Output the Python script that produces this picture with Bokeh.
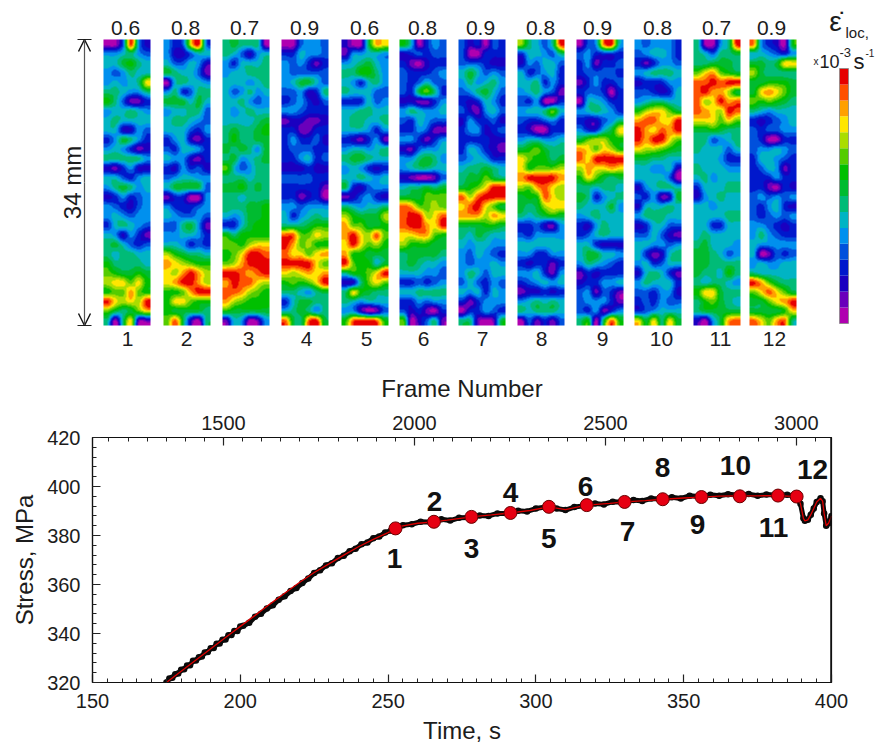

import numpy as np
from bokeh.embed import file_html
from bokeh.resources import INLINE
from bokeh.plotting import figure
from bokeh.layouts import column
from bokeh.models import (Range1d, LinearAxis, FixedTicker, LinearColorMapper, Arrow, OpenHead, Span)
from bokeh.core.properties import value

FONT = "Liberation Sans"
INK = "#1c1c1c"

palette = ["#b000b0", "#6a00bb", "#1a00c0", "#0018cc", "#0050dc", "#0090ee", "#00b4c4", "#00bb77",
           "#00bb30", "#00bf00", "#55cc00", "#aadd00", "#ffe600", "#ffa000", "#ff5000", "#e60000"]

frame_top = ["0.6", "0.8", "0.7", "0.9", "0.6", "0.8", "0.9", "0.8", "0.9", "0.8", "0.7", "0.9"]
frame_ids = [str(i) for i in range(1, 13)]

panel_1 = ["004f52","556754","668976","545766","56567c","776557","974113","566765","676666","662254",
           "358753","565312","777775","213522","664356","578756","235345","543245","565455","367654",
           "652531","786434","767766","977776","a98898","bccac9","9aada9","fcbcbf","a878ac","707c11"]
panel_2 = ["534cf4","522466","644652","876641","067665","573477","888686","566774","677654","666435",
           "356213","436653","655213","325342","456655","688884","133005","533345","654454","447851",
           "556653","665343","b98776","dcba99","cbdfdb","cdffdb","99adff","9cca99","988887","ae8207"]
panel_3 = ["787770","764256","536667","566777","666567","645756","667545","656766","666678","787789",
           "797788","878758","785678","a64577","777677","889787","776777","777889","656889","336899",
           "979999","aa9bcc","9acffe","abdfff","ffedef","dfeecb","eedba9","dba999","988888","165015"]
panel_4 = ["004554","336554","545313","544444","568864","445237","345324","554333","122112","331133",
           "353342","344433","335634","222322","444433","333331","331230","554555","635676","777899",
           "eeaacb","fdab99","eccacd","ffffca","cbcdcd","9a9acf","776578","368877","678757","e87ef8"]
panel_5 = ["2008dc","155665","567865","779975","653675","766644","333645","667766","677667","666535",
           "321351","566567","788766","565323","667656","832455","124532","765667","b9888b","daa889",
           "dfcbea","cfcab9","d99888","fa9968","799acf","227aca","7c9877","765666","552014","9effe9"]
panel_6 = ["960354","234344","310233","433345","434644","438a73","221135","576556","436544","335411",
           "553135","214556","557875","567766","210014","677878","888aaa","edaaba","effbce","effdcf",
           "ccdda9","b99988","788887","787665","666554","334345","667777","335455","423103","a02471"]
panel_7 = ["423043","400333","444322","686454","575675","457864","323653","421564","253342","355234",
           "333322","365321","456533","677876","788a87","89acff","ebefff","cefca8","dddbdc","888998",
           "768766","656655","546543","545565","576466","464354","656365","313555","033543","771018"]
panel_8 = ["b7647f","366547","254664","634563","667353","567541","435003","5667a6","433453","320033",
           "566556","89a877","ca9978","c9aaab","dffffd","badecb","899ecb","878bcc","767898","334215",
           "435555","666666","553355","323313","556315","345656","122323","567676","767776","041314"]
panel_9 = ["045ef6","453333","351334","344443","135334","344303","066533","567653","322457","53368c",
           "8abb99","dcacb9","ecffff","bdccdc","9ca878","776776","873567","766685","567666","325766",
           "346766","663222","688665","576543","132333","233556","451431","455531","435135","7908e9"]
panel_10 = ["545553","456653","313554","567776","233355","443236","567766","9bcca8","deeccf","fdcedf",
            "fdffca","cbba98","887766","665562","666640","256776","435128","266676","577766","236644",
            "446421","665545","631267","563466","267631","576663","443552","343544","345666","c8c7c8"]
panel_11 = ["70057f","764778","778887","acda98","eefeff","efddb8","ebcfde","edcbfe","cccaca","889877",
            "774567","766646","666533","766655","675666","366677","256766","665666","666677","663366",
            "676666","786665","887645","887777","877697","767765","9cc877","79a876","788888","2058de"]
panel_12 = ["e53209","665435","8878cc","b87777","889998","8cdca8","a9a987","765666","323456","434455",
            "430033","455654","366543","346513","333533","331032","454545","435632","434545","554323",
            "575433","655555","601434","565566","766666","fda877","aceca8","88acdf","88889c","ecade7"]
panels = [panel_1, panel_2, panel_3, panel_4, panel_5, panel_6, panel_7, panel_8, panel_9, panel_10, panel_11, panel_12]

time_s = [175, 176, 177, 178, 179, 180, 181, 182, 183, 184, 185, 186, 187, 188, 189, 190, 191, 192, 193, 194, 195, 196, 197, 198, 199, 200,
          201, 203, 205, 207, 209, 211, 213,
          215, 217, 219, 221, 223, 225, 227, 229, 231, 233, 235, 237, 239, 241, 243, 245, 247, 249, 251, 252.5,
          255, 258, 261, 265.5, 268, 271, 274, 278, 281, 284, 287, 291, 294, 297, 300, 304.5, 307, 310, 313, 317,
          320, 323, 326, 330, 333, 336, 339, 343, 346, 349, 352, 356, 359, 362, 365, 369, 372, 375, 378, 382, 385,
          388.2, 389.5, 390.5, 391, 392, 393, 394, 395, 396.3, 397, 397.5, 398.2, 399, 400]
stress_raw = [320, 321.6, 321.9, 323.4, 323.7, 325.2, 325.4, 326.9, 327, 328.9, 329, 330.3, 330.6, 332.2, 332.4, 334, 334.1, 335.8, 335.9, 337.5, 337.6, 339.3, 339.4, 341, 341, 342.9,
              343.2, 344.4, 346.8, 348.1, 350.2, 351.5, 353.8,
              355.2, 357.3, 358.6, 360.6, 362.4, 364.7, 365.8, 367.8, 368.7, 370.8, 371.7, 373.6, 374.6, 376.4, 377.1, 378.9, 379.6, 381.2, 382, 382.8,
              384.2, 384.6, 385.6, 385.4, 386.6, 386.1, 387.2, 387.3, 388.2, 388, 389, 389, 390.1, 389.8, 391, 391.9, 391, 390.4, 391.6, 392.2,
              393.1, 392.7, 393.8, 393.6, 394.5, 394.1, 395.1, 394.8, 395.6, 395.1, 396.2, 395.8, 396.6, 396.2, 396.8, 396.4, 396.9, 396.2, 396.7, 396.4, 396.6,
              395.9, 393, 387, 386, 386.4, 388.5, 391, 393.7, 395.2, 394, 389, 384, 385, 388]

fit_time = [175, 180, 185, 190, 195, 200, 205, 210, 215, 220, 225, 230, 235, 240, 245, 250, 252.5, 255, 260, 265.5, 270, 278.2, 285, 291.4, 298,
            304.4, 310, 317.2, 325, 330, 337, 342.9, 350, 356, 362, 369, 375, 381.9, 388.2, 389.5, 390.5, 391, 392, 393, 394, 395, 396.3, 397, 397.5, 398.2, 399, 400]
stress_fit = [320, 324.6, 329.2, 333.8, 338.4, 342.9, 347.4, 352, 356.4, 360.8, 364.9, 368.4, 372, 375.4, 378.4, 381.2, 382.9, 383.9, 385, 385.6, 386.3, 387.6, 388.4, 389.2, 390.2,
              391.7, 390.6, 392.4, 393.1, 393.7, 394.2, 394.8, 395.3, 395.7, 396.1, 396.2, 396.2, 396.3, 395.9, 393, 387, 386, 386.4, 388.5, 391, 393.7, 395.2, 394, 389, 384, 385, 388]

point_time = [252.5, 265.5, 278.2, 291.4, 304.4, 317.2, 330, 342.9, 356, 369, 381.9, 388.2]
point_stress = [382.9, 385.6, 387.6, 389.2, 391.7, 392.4, 393.7, 394.8, 395.7, 396, 396.3, 395.9]
label_time = [252.2, 265.7, 278.2, 291.4, 304.4, 316.8, 331, 342.8, 354.7, 367.5, 380.4, 393.6]
label_stress = [370.8, 394, 374.5, 397.6, 378.9, 400.1, 381.8, 407.8, 384.6, 408.6, 383.4, 407]

time_ticks = [150, 200, 250, 300, 350, 400]
stress_ticks = [320, 340, 360, 380, 400, 420]
frame_ticks = [1500, 2000, 2500, 3000]

# layout of the upper row, in page pixels
panel_left = [103, 163, 222, 281, 341, 399, 458, 517, 576, 634, 693, 749]
panel_w = 47
panel_top, panel_bottom = 39, 325
top_x = [125, 185, 244, 304, 364, 422, 480, 540, 597, 657, 716, 771]
bottom_x = [127, 186, 248, 306, 366, 423, 482, 541, 602, 661, 720, 774]


def cubic(v, n):
    # Catmull-Rom resampling of one line of cell values onto n output pixels
    m = len(v)
    pos = (np.arange(n) + 0.5) / n * m - 0.5
    i = np.clip(np.floor(pos).astype(int), 0, m - 1)
    t = np.clip(pos - i, 0, 1)
    p0 = v[np.clip(i - 1, 0, m - 1)]
    p1 = v[i]
    p2 = v[np.clip(i + 1, 0, m - 1)]
    p3 = v[np.clip(i + 2, 0, m - 1)]
    return 0.5 * (2 * p1 + (p2 - p0) * t + (2 * p0 - 5 * p1 + 4 * p2 - p3) * t ** 2 + (3 * p1 - p0 - 3 * p2 + p3) * t ** 3)


def field(rows, w, h):
    g = np.array([[int(c, 16) for c in r] for r in rows], dtype=float) + 0.5
    a = np.array([cubic(g[:, j], h) for j in range(g.shape[1])]).T
    b = np.array([cubic(a[i, :], w) for i in range(h)])
    k = np.ones(3) / 3
    b = np.apply_along_axis(lambda v: np.convolve(np.pad(v, 1, mode="edge"), k, "valid"), 1, b)
    b = np.apply_along_axis(lambda v: np.convolve(np.pad(v, 1, mode="edge"), k, "valid"), 0, b)
    return np.clip(b, 0, 15.99)[::-1]


top = figure(width=875, height=363, x_range=Range1d(0, 875), y_range=Range1d(-363, 0),
             x_axis_type=None, y_axis_type=None, toolbar_location=None, output_backend="svg",
             min_border=0, outline_line_color=None, frame_align=False)
top.grid.visible = False

mapper = LinearColorMapper(palette=palette, low=0, high=16)
for left, rows in zip(panel_left, panels):
    top.image(image=[field(rows, panel_w, panel_bottom - panel_top)], x=left, y=-panel_bottom,
              dw=panel_w, dh=panel_bottom - panel_top, color_mapper=mapper)


def label(fig, x, y, t, size, align="center", base="middle", style="normal", angle=0):
    fig.text(x=[x], y=[-y], text=[t], text_font=value(FONT), text_font_size=f"{size}px",
             text_align=align, text_baseline=base, text_color=INK, text_font_style=style, angle=angle)


for x, t in zip(top_x, frame_top):
    label(top, x, 27, t, 21)
for x, t in zip(bottom_x, frame_ids):
    label(top, x, 338, t, 21)

# 34 mm gauge
top.segment(x0=[77, 77], x1=[91, 91], y0=[-panel_top, -panel_bottom], y1=[-panel_top, -panel_bottom],
            line_color="#222222", line_width=1.2)
for y0, y1 in ((182, panel_top), (182, panel_bottom)):
    top.add_layout(Arrow(end=OpenHead(size=12, line_color="#111111", line_width=1.4), x_start=84, x_end=84,
                         y_start=-y0, y_end=-y1, line_color="#555555", line_width=1.2))
label(top, 72, 182, "34 mm", 24, angle=np.pi / 2)

# colour scale
bar_top, bar_bottom = 68, 323
step = (bar_bottom - bar_top) / len(palette)
top.quad(left=839, right=848,
         top=[-(bar_bottom - step * (i + 1)) for i in range(16)],
         bottom=[-(bar_bottom - step * i) for i in range(16)],
         fill_color=palette, line_color=None)
top.rect(x=[843.5], y=[-(bar_top + bar_bottom) / 2], width=9, height=bar_bottom - bar_top,
         fill_color=None, line_color="#888888", line_width=0.8)
label(top, 835, 21, "\u03b5\u0307", 28)
label(top, 845, 32, "loc,", 15, align="left", base="alphabetic")
label(top, 813, 61, "x", 10, align="left", base="alphabetic")
label(top, 819, 61, "10", 18, align="left", base="alphabetic")
label(top, 839, 52, "-3", 13, align="left", base="alphabetic")
label(top, 853, 61, "s", 22, align="left", base="alphabetic")
label(top, 865, 52, "-1", 10, align="left", base="alphabetic")

# stress curve
p = figure(width=875, height=383, x_range=Range1d(150, 400), y_range=Range1d(320, 420),
           toolbar_location=None, output_backend="svg",
           min_border_left=92, min_border_right=44, min_border_top=74, min_border_bottom=63,
           outline_line_color="#111111", outline_line_width=1.2, frame_align=False,
           x_axis_label="Time, s", y_axis_label="Stress, MPa")
p.grid.visible = False
p.extra_x_ranges = {"frame": Range1d(1157, 3092)}
upper = LinearAxis(x_range_name="frame", axis_label="Frame Number")
p.add_layout(upper, "above")
lower = p.below[0]
left_ax = p.left[0]


def style(ax, ticks, minor):
    ax.ticker = FixedTicker(ticks=ticks, minor_ticks=minor)
    ax.major_tick_in = 8
    ax.major_tick_out = 0
    ax.minor_tick_in = 4
    ax.minor_tick_out = 0
    ax.major_tick_line_color = "#222222"
    ax.minor_tick_line_color = "#222222"
    ax.major_tick_line_width = 1.2
    ax.minor_tick_line_width = 1
    ax.axis_line_color = "#111111"
    ax.axis_line_width = 1.2
    ax.major_label_text_font = FONT
    ax.major_label_text_font_size = "20px"
    ax.major_label_text_color = INK
    ax.axis_label_text_font = FONT
    ax.axis_label_text_font_size = "24px"
    ax.axis_label_text_font_style = "normal"
    ax.axis_label_text_color = INK


style(lower, time_ticks, list(range(150, 401, 5)))
style(upper, frame_ticks, list(range(1200, 3092, 50)))
style(left_ax, stress_ticks, list(range(320, 421, 4)))
lower.major_label_standoff = 11
lower.axis_label_standoff = 6
upper.major_label_standoff = 8
upper.axis_label_standoff = 11
left_ax.major_label_standoff = 12
left_ax.axis_label_standoff = 6

p.add_layout(Span(location=400, dimension="height", line_color="#111111", line_width=2.5))
p.line(time_s, stress_raw, line_color="#0a0a0a", line_width=5, line_join="round")
p.scatter(time_s, stress_raw, size=6.5, fill_color="#0a0a0a", line_color=None)
p.line(fit_time, stress_fit, line_color="#dd0000", line_width=1.3)
p.scatter(point_time, point_stress, size=13, fill_color="#e60012", line_color="#6a0000", line_width=1)
p.text(x=label_time, y=label_stress, text=frame_ids, text_font=value(FONT), text_font_size="28px",
       text_font_style="bold", text_align="center", text_baseline="middle", text_color="#111111")

page = column(top, p, spacing=0)
open("out.html", "w").write(file_html(page, INLINE))
